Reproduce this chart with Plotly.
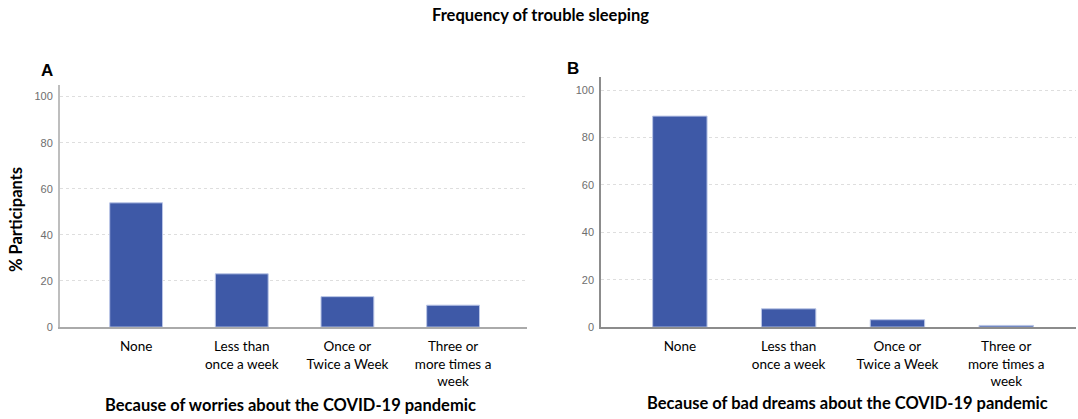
import plotly.graph_objects as go

# Response categories and percentages for the two panels
categories = ["None", "Less than once a week", "Once or Twice a Week", "Three or more times a week"]
tick_labels = ["None", "Less than<br>once a week", "Once or<br>Twice a Week", "Three or<br>more times a<br>week"]
worries_pct = [53.9, 23.1, 13.2, 9.5]
bad_dreams_pct = [89.0, 7.7, 3.1, 0.7]
y_ticks = [0, 20, 40, 60, 80, 100]

BAR = "rgb(62,89,167)"
EDGE = "rgb(185,197,230)"
FONT = "Lato"

fig = go.Figure()
fig.add_trace(go.Bar(x=categories, y=worries_pct, xaxis="x", yaxis="y", width=0.5,
                     marker=dict(color=BAR, line=dict(color=EDGE, width=1))))
fig.add_trace(go.Bar(x=categories, y=bad_dreams_pct, xaxis="x2", yaxis="y2", width=0.5,
                     marker=dict(color=BAR, line=dict(color=EDGE, width=1))))

tick_font = dict(family="Liberation Sans, Arial", size=11, color="rgb(110,110,110)")
cat_font = dict(family=FONT, size=13.5, color="black")

fig.update_layout(
    width=1078, height=419,
    margin=dict(l=0, r=0, t=0, b=0, autoexpand=False),
    paper_bgcolor="white", plot_bgcolor="white",
    showlegend=False,
    xaxis=dict(domain=[0.0557, 0.4889], range=[-0.72, 3.70], type="category", anchor="y",
               tickvals=categories, ticktext=tick_labels, tickfont=cat_font, automargin=False,
               showline=True, linecolor="rgb(170,170,170)", linewidth=2,
               ticks="", showgrid=False, ticklabelstandoff=6),
    yaxis=dict(domain=[0.2194, 0.797], range=[0, 105], tickvals=y_ticks, anchor="x",
               tickfont=tick_font, showline=True, linecolor="rgb(190,190,190)", linewidth=2,
               showgrid=True, gridcolor="rgb(222,222,222)", griddash="dot", gridwidth=1,
               zeroline=False, ticks="", ticklabelstandoff=3, automargin=False),
    xaxis2=dict(domain=[0.5575, 0.998], range=[-0.725, 3.64], type="category", anchor="y2",
                tickvals=categories, ticktext=tick_labels, tickfont=cat_font, automargin=False,
                showline=True, linecolor="rgb(140,140,140)", linewidth=1.5,
                ticks="", showgrid=False, ticklabelstandoff=6),
    yaxis2=dict(domain=[0.2194, 0.8162], range=[0, 105.5], tickvals=y_ticks, anchor="x2",
                tickfont=tick_font, showline=True, linecolor="rgb(140,140,140)", linewidth=1.5,
                showgrid=True, gridcolor="rgb(222,222,222)", griddash="dot", gridwidth=1,
                zeroline=False, ticks="", ticklabelstandoff=3, automargin=False),
)

annotations = [
    dict(text="<b>Frequency of trouble sleeping</b>", x=540 / 1078, y=1 - 15 / 419,
         font=dict(family=FONT, size=16.5, color="black")),
    dict(text="<b>A</b>", x=47 / 1078, y=1 - 71 / 419,
         font=dict(family="Liberation Sans, Arial", size=17, color="black")),
    dict(text="<b>B</b>", x=573 / 1078, y=1 - 68 / 419,
         font=dict(family="Liberation Sans, Arial", size=17, color="black")),
    dict(text="<b>% Participants</b>", x=16 / 1078, y=1 - 220 / 419, textangle=-90,
         font=dict(family=FONT, size=16.5, color="black")),
    dict(text="<b>Because of worries about the COVID-19 pandemic</b>", x=290 / 1078, y=1 - 405 / 419,
         font=dict(family=FONT, size=16.5, color="black")),
    dict(text="<b>Because of bad dreams about the COVID-19 pandemic</b>", x=848 / 1078, y=1 - 403 / 419,
         font=dict(family=FONT, size=16.5, color="black")),
]
for a in annotations:
    a.update(xref="paper", yref="paper", showarrow=False, xanchor="center", yanchor="middle")
fig.update_layout(annotations=annotations)

fig.write_html("out.html")
